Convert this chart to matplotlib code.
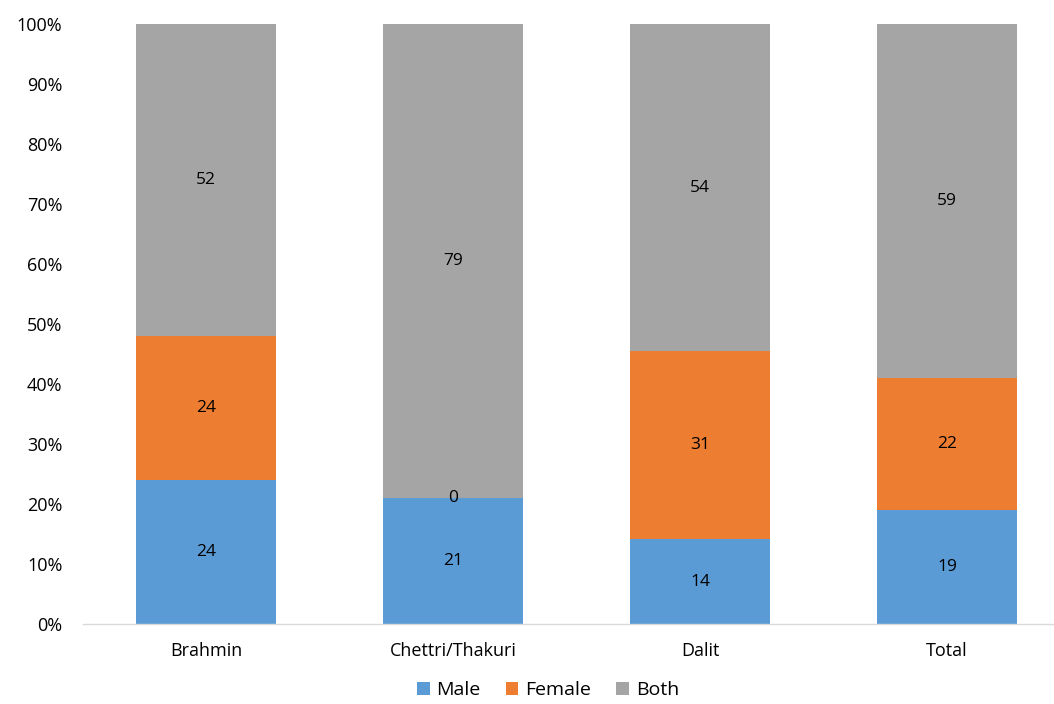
import matplotlib
matplotlib.use("Agg")
import matplotlib.pyplot as plt
import numpy as np
from matplotlib.ticker import FuncFormatter

plt.rcParams['font.family'] = ['Open Sans', 'DejaVu Sans']

categories = ["Brahmin", "Chettri/Thakuri", "Dalit", "Total"]
male = [24, 21, 14, 19]
female = [24, 0, 31, 22]
both = [52, 79, 54, 59]
series_names = ["Male", "Female", "Both"]
colors = ["#5B9BD5", "#ED7D31", "#A5A5A5"]

raw = np.array([male, female, both], dtype=float)
share = raw / raw.sum(axis=0) * 100

fig = plt.figure(figsize=(10.54, 7.04), dpi=100)
ax = fig.add_axes([82.5 / 1054, 80 / 704, 988 / 1054, 600 / 704])

x = np.arange(len(categories))
bottom = np.zeros(len(categories))
handles = []
for i, name in enumerate(series_names):
    h = ax.bar(x, share[i], 0.57, bottom=bottom, color=colors[i], label=name)
    handles.append(h)
    for xi, b, s, v in zip(x, bottom, share[i], raw[i]):
        ax.text(xi, b + s / 2, f"{int(v)}", ha="center", va="center",
                fontsize=12.5, color="#000000")
    bottom += share[i]

ax.set_xlim(-0.5, len(categories) - 0.5)
ax.set_ylim(0, 100)
ax.set_yticks(np.arange(0, 101, 10))
ax.yaxis.set_major_formatter(FuncFormatter(lambda v, p: f"{int(v)}%"))
ax.set_xticks(x)
ax.set_xticklabels(categories)
ax.tick_params(axis="both", length=0, labelsize=13, colors="#000000")
ax.tick_params(axis="y", pad=14.5)
ax.tick_params(axis="x", pad=13)
for side in ["left", "right", "top"]:
    ax.spines[side].set_visible(False)
ax.spines["bottom"].set_color("#D9D9D9")
ax.spines["bottom"].set_linewidth(1)

fig.legend(handles=handles, labels=series_names, loc="center",
           bbox_to_anchor=(548 / 1054, 1 - 690 / 704), ncol=3, frameon=False,
           fontsize=14, handlelength=0.65, handleheight=0.65,
           columnspacing=1.3, handletextpad=0.35, borderpad=0.1)

fig.savefig("out.png", dpi=100)
